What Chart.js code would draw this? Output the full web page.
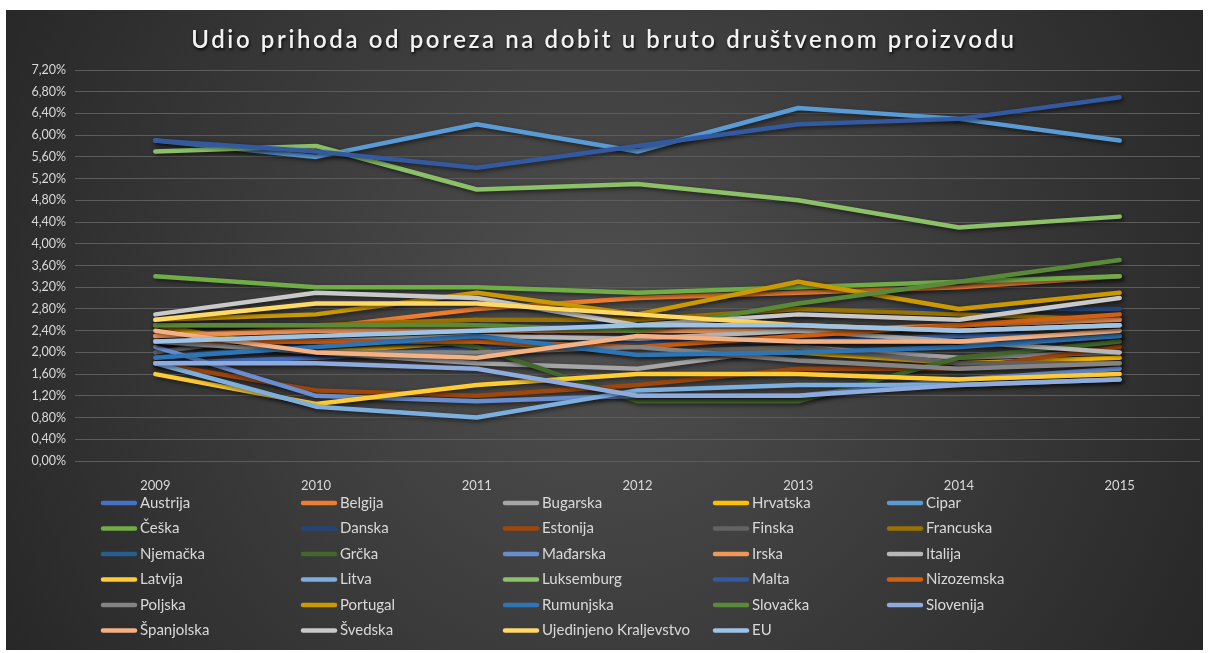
<!DOCTYPE html>
<html>
<head>
<meta charset="utf-8">
<script src="https://cdn.jsdelivr.net/npm/chart.js@4.4.1/dist/chart.umd.min.js"></script>
<style>
  html, body { margin: 0; padding: 0; background: #fff; }
  #wrap { width: 1209px; height: 653px; }
</style>
</head>
<body>
<div id="wrap"><canvas id="chart"></canvas></div>
<script>
const years = ['2009', '2010', '2011', '2012', '2013', '2014', '2015'];

const countries = [
  'Austrija', 'Belgija', 'Bugarska', 'Hrvatska', 'Cipar',
  'Češka', 'Danska', 'Estonija', 'Finska', 'Francuska',
  'Njemačka', 'Grčka', 'Mađarska', 'Irska', 'Italija',
  'Latvija', 'Litva', 'Luksemburg', 'Malta', 'Nizozemska',
  'Poljska', 'Portugal', 'Rumunjska', 'Slovačka', 'Slovenija',
  'Španjolska', 'Švedska', 'Ujedinjeno Kraljevstvo', 'EU'
];

// share of GDP, in %
const austrija   = [1.8, 1.9, 2.1, 2.2, 2.2, 2.3, 2.3];
const belgija    = [2.3, 2.45, 2.8, 3.0, 3.1, 3.2, 3.4];
const bugarska   = [2.2, 2.0, 1.8, 1.7, 2.1, 1.9, 2.0];
const hrvatska   = [2.5, 2.0, 2.2, 2.0, 2.0, 1.8, 1.9];
const cipar      = [5.9, 5.6, 6.2, 5.7, 6.5, 6.3, 5.9];
const ceska      = [3.4, 3.2, 3.2, 3.1, 3.2, 3.3, 3.4];
const danska     = [2.2, 2.2, 2.3, 2.6, 2.7, 2.8, 2.8];
const estonija   = [1.8, 1.3, 1.2, 1.4, 1.7, 1.7, 2.1];
const finska     = [2.0, 2.4, 2.6, 2.0, 2.1, 1.8, 1.8];
const francuska  = [2.5, 2.5, 2.6, 2.6, 2.8, 2.7, 2.6];
const njemacka   = [1.9, 2.15, 2.2, 2.3, 2.2, 2.2, 2.3];
const grcka      = [2.5, 2.5, 2.1, 1.1, 1.1, 1.9, 2.2];
const madarska   = [2.1, 1.2, 1.1, 1.2, 1.2, 1.5, 1.7];
const irska      = [2.3, 2.4, 2.4, 2.4, 2.4, 2.5, 2.6];
const italija    = [2.2, 2.2, 2.3, 2.25, 2.4, 2.2, 2.0];
const latvija    = [1.6, 1.05, 1.4, 1.6, 1.6, 1.5, 1.6];
const litva      = [1.8, 1.0, 0.8, 1.3, 1.4, 1.4, 1.5];
const luksemburg = [5.7, 5.8, 5.0, 5.1, 4.8, 4.3, 4.5];
const malta      = [5.9, 5.7, 5.4, 5.8, 6.2, 6.3, 6.7];
const nizozemska = [2.2, 2.2, 2.2, 2.1, 2.3, 2.5, 2.7];
const poljska    = [2.2, 2.0, 2.0, 2.1, 1.85, 1.7, 1.8];
const portugal   = [2.6, 2.7, 3.1, 2.7, 3.3, 2.8, 3.1];
const rumunjska  = [1.9, 2.1, 2.3, 1.95, 2.0, 2.1, 2.3];
const slovacka   = [2.5, 2.5, 2.5, 2.4, 2.9, 3.3, 3.7];
const slovenija  = [1.8, 1.8, 1.7, 1.2, 1.2, 1.4, 1.5];
const spanjolska = [2.4, 2.0, 1.9, 2.3, 2.2, 2.2, 2.4];
const svedska    = [2.7, 3.1, 3.0, 2.5, 2.7, 2.6, 3.0];
const ujedKralj  = [2.6, 2.9, 2.9, 2.7, 2.5, 2.4, 2.5];
const eu         = [2.2, 2.3, 2.4, 2.5, 2.5, 2.4, 2.5];

const values = [
  austrija, belgija, bugarska, hrvatska, cipar,
  ceska, danska, estonija, finska, francuska,
  njemacka, grcka, madarska, irska, italija,
  latvija, litva, luksemburg, malta, nizozemska,
  poljska, portugal, rumunjska, slovacka, slovenija,
  spanjolska, svedska, ujedKralj, eu
];

const yTicks = { min: 0, max: 7.2, step: 0.4 };

// office palette, in series order
const palette = [
  '#4472C4', '#ED7D31', '#A5A5A5', '#FFC000', '#5B9BD5',
  '#70AD47', '#264478', '#9E480E', '#636363', '#997300',
  '#255E91', '#43682B', '#698ED0', '#F1975A', '#B7B7B7',
  '#FFCD33', '#7CAFDD', '#8CC168', '#335AA1', '#D26012',
  '#848484', '#CC9A00', '#2E75B6', '#5A8A39', '#8FAADC',
  '#F4B183', '#C9C9C9', '#FFD966', '#9DC3E6'
];

const FONT = 'Lato, "Open Sans", sans-serif';
const TEXT = '#d9d9d9';

const backgroundPlugin = {
  id: 'bg',
  beforeDraw(chart) {
    const ctx = chart.ctx;
    ctx.save();
    ctx.fillStyle = '#ffffff';
    ctx.fillRect(0, 0, chart.width, chart.height);
    const g = ctx.createRadialGradient(604, 320, 0, 604, 320, 720);
    g.addColorStop(0, '#505050');
    g.addColorStop(1, '#252525');
    ctx.fillStyle = g;
    ctx.fillRect(6, 10, 1197, 640);
    ctx.restore();
  }
};

const titlePlugin = {
  id: 'titleText',
  afterDraw(chart) {
    const ctx = chart.ctx;
    ctx.save();
    ctx.font = '600 24px ' + FONT;
    ctx.letterSpacing = '2.6px';
    ctx.textAlign = 'center';
    ctx.textBaseline = 'middle';
    ctx.shadowColor = 'rgba(0,0,0,0.8)';
    ctx.shadowBlur = 3;
    ctx.shadowOffsetX = 1;
    ctx.shadowOffsetY = 2;
    ctx.fillStyle = '#f2f2f2';
    ctx.fillText('Udio prihoda od poreza na dobit u bruto društvenom proizvodu', 604, 40);
    ctx.restore();
  }
};

const shadowPlugin = {
  id: 'lineShadow',
  beforeDatasetDraw(chart) {
    const ctx = chart.ctx;
    ctx.save();
    ctx.shadowColor = 'rgba(0,0,0,0.55)';
    ctx.shadowBlur = 4;
    ctx.shadowOffsetX = 2;
    ctx.shadowOffsetY = 2;
  },
  afterDatasetDraw(chart) {
    chart.ctx.restore();
  }
};

// excel-like legend in fixed columns
const legendCols = [101, 301, 503, 713, 887];
const legendTop = 503;
const legendRow = 25.5;

const gridLegendPlugin = {
  id: 'gridLegend',
  afterDraw(chart) {
    const ctx = chart.ctx;
    ctx.save();
    ctx.font = '15px ' + FONT;
    ctx.textBaseline = 'middle';
    ctx.lineCap = 'round';
    chart.data.datasets.forEach((ds, i) => {
      const x = legendCols[i % 5];
      const y = legendTop + Math.floor(i / 5) * legendRow;
      ctx.strokeStyle = ds.borderColor;
      ctx.lineWidth = 4.5;
      ctx.beginPath();
      ctx.moveTo(x + 2, y);
      ctx.lineTo(x + 34, y);
      ctx.stroke();
      ctx.fillStyle = TEXT;
      ctx.fillText(ds.label, x + 39, y);
    });
    ctx.restore();
  }
};

new Chart(document.getElementById('chart').getContext('2d'), {
  type: 'line',
  data: {
    labels: years,
    datasets: countries.map((name, i) => ({
      label: name,
      data: values[i],
      borderColor: palette[i],
      backgroundColor: palette[i],
      borderWidth: 4.5,
      borderCapStyle: 'round',
      borderJoinStyle: 'round',
      pointRadius: 0,
      tension: 0,
      order: -i
    }))
  },
  options: {
    responsive: true,
    maintainAspectRatio: false,
    animation: false,
    layout: {
      padding: {
        top: 70,
        left: 6,
        right: 9,
        bottom: 0
      }
    },
    scales: {
      x: {
        offset: true,
        grid: {
          display: false
        },
        border: {
          display: false
        },
        ticks: {
          color: TEXT,
          font: { family: FONT, size: 13 },
          padding: 9,
          maxRotation: 0
        },
        afterFit(scale) {
          scale.height = 192;
        }
      },
      y: {
        min: yTicks.min,
        max: yTicks.max,
        grid: {
          color: '#5c5c5c',
          lineWidth: 1,
          drawTicks: false
        },
        border: {
          display: false
        },
        ticks: {
          stepSize: yTicks.step,
          color: TEXT,
          font: { family: FONT, size: 12.5 },
          padding: 9,
          callback: v => v.toFixed(2).replace('.', ',') + '%'
        },
        afterFit(scale) {
          scale.width = 69;
        }
      }
    },
    plugins: {
      legend: {
        display: false
      },
      title: {
        display: false
      },
      tooltip: {
        enabled: false
      }
    }
  },
  plugins: [backgroundPlugin, shadowPlugin, titlePlugin, gridLegendPlugin]
});
</script>
</body>
</html>
